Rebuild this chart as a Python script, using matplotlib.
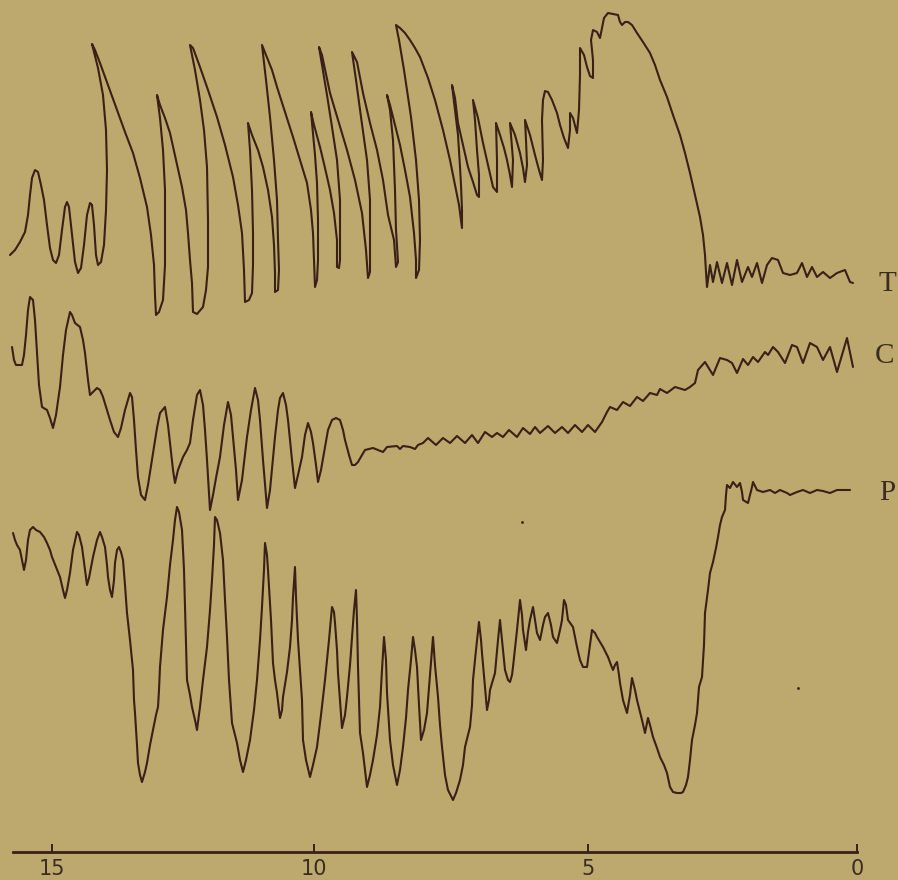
"""Kymograph tracing: T, C and P records against time (s), drum runs right-to-left."""
import matplotlib
matplotlib.use("Agg")
import matplotlib.pyplot as plt

# traces: x = drum position, y = pen height (downwards)
T_x = [10, 15, 20, 25, 28, 30, 32, 35, 38, 41, 44, 47, 50, 53, 56, 59, 62, 65, 67, 69, 72, 75, 78, 81, 84, 87, 90, 92, 94, 96, 98,
       101, 104, 106, 107, 106, 103, 98, 93, 92, 95, 100, 108, 117, 125, 133, 140, 147, 151, 154, 155, 156,
       159, 163, 165, 165, 165, 163, 160, 157, 160, 165, 170, 176, 182, 186, 188, 190, 192, 193,
       197, 203, 206, 208, 208, 207, 204, 200, 195, 190, 193, 200, 208, 217, 225, 233, 238, 242, 244, 245,
       249, 252, 253, 253, 252, 250, 248, 252, 258, 263, 268, 272, 274, 275, 275,
       278, 279, 278, 277, 274, 270, 266, 262, 266, 272, 277, 285, 293, 300, 307, 311, 313, 314, 315,
       317, 318, 318, 317, 315, 313, 311, 314, 320, 325, 330, 334, 337, 337,
       339, 340, 340, 340, 337, 332, 327, 322, 319, 322, 330, 338, 347, 355, 362, 366, 368,
       370, 370, 370, 367, 361, 356, 352, 357, 363, 370, 377, 383, 388, 394, 396,
       398, 396, 395, 393, 390, 387, 390, 395, 400, 405, 410, 414, 416, 416,
       419, 420, 419, 416, 411, 404, 399, 396, 400, 405, 410, 415, 420, 428, 435, 443, 450, 455, 459, 462,
       462, 461, 460, 458, 455, 452, 455, 458, 463, 468, 473, 477, 479, 479, 477, 475, 473,
       478, 483, 488, 493, 497, 497, 496, 500, 504, 507, 510, 512, 513, 511, 510,
       515, 520, 523, 525, 527, 526, 525, 530, 535, 539, 542, 543, 542, 543, 545, 548, 552, 557, 560, 564, 568,
       570, 570, 573, 577, 579, 580, 580, 584, 587, 590, 593, 593, 591, 593, 597, 600, 602, 604, 608, 613, 618,
       620, 622, 625, 628, 632, 637, 643, 650, 655, 660, 667, 673, 680, 685, 690, 695, 700, 703, 705, 706, 707,
       710, 713, 717, 722, 727, 732, 737, 742, 748, 752, 757, 762, 767, 772, 778, 783, 790, 797, 802, 807,
       812, 817, 823, 830, 837, 845, 850, 853]
T_y = [255, 250, 242, 232, 215, 195, 178, 170, 172, 185, 200, 225, 248, 260, 263, 255, 230, 207, 202, 207, 235, 262, 273, 268, 245, 215, 203, 205, 225, 255, 265,
       262, 245, 210, 170, 130, 95, 68, 48, 44, 50, 63, 85, 110, 132, 153, 178, 207, 235, 265, 295, 315,
       312, 300, 265, 233, 190, 150, 118, 95, 105, 118, 133, 160, 187, 210, 233, 260, 283, 312,
       314, 307, 290, 267, 220, 167, 130, 100, 70, 45, 48, 67, 90, 117, 145, 177, 205, 233, 270, 302,
       300, 293, 265, 233, 190, 150, 123, 135, 150, 167, 190, 217, 245, 273, 292,
       290, 270, 240, 200, 160, 117, 80, 45, 55, 70, 87, 112, 137, 160, 183, 210, 233, 260, 287,
       280, 260, 220, 183, 155, 133, 112, 125, 147, 168, 190, 213, 240, 267,
       268, 260, 230, 200, 160, 127, 95, 65, 47, 55, 93, 120, 150, 180, 213, 250, 278,
       272, 240, 200, 160, 117, 80, 52, 62, 93, 123, 150, 180, 215, 240, 267,
       262, 230, 190, 140, 110, 95, 105, 125, 145, 170, 197, 233, 260, 278,
       270, 240, 200, 160, 117, 70, 40, 25, 28, 33, 40, 48, 57, 78, 100, 130, 160, 185, 205, 228,
       210, 185, 167, 135, 110, 85, 98, 123, 145, 167, 182, 195, 197, 175, 150, 120, 100,
       118, 143, 165, 187, 192, 160, 123, 135, 148, 160, 175, 187, 160, 135, 123,
       135, 153, 168, 182, 165, 140, 120, 135, 155, 170, 180, 160, 120, 100, 91, 92, 100, 113, 125, 138, 148,
       130, 113, 118, 133, 110, 75, 48, 55, 67, 76, 78, 60, 40, 30, 32, 38, 28, 18, 13, 14, 15,
       22, 25, 22, 22, 25, 33, 42, 53, 65, 80, 97, 115, 135, 153, 173, 195, 217, 235, 255, 272, 287,
       265, 282, 262, 283, 263, 285, 260, 282, 267, 277, 263, 283, 265, 258, 260, 273, 275, 273, 263, 277,
       267, 277, 272, 278, 273, 270, 282, 283]

C_x = [12, 14, 16, 22, 24, 26, 28, 30, 33, 35, 37, 39, 42, 47, 50, 53, 56, 60, 63, 66, 70, 72, 75, 80, 83, 85, 88, 90, 93, 97,
       100, 103, 107, 110, 114, 118, 121, 125, 128, 130, 132, 134, 136, 138, 141, 145, 148, 153, 157, 160, 165, 168, 170, 173, 175,
       178, 183, 187, 190, 193, 197, 200, 203, 205, 207, 210, 213, 216, 220, 224, 228, 231, 233, 236, 238, 242, 247, 251, 255,
       258, 260, 263, 267, 270, 275, 278, 280, 283, 286, 288, 292, 295, 298, 302, 305, 308, 311, 313, 316, 318, 321, 325, 328,
       332, 336, 340, 343, 345, 349, 352, 355, 358, 362, 365, 373, 383, 387, 397, 400, 403, 410, 415, 418, 423, 428,
       436, 443, 450, 457, 465, 472, 478, 485, 492, 497, 503, 509, 517, 523, 530, 535, 540, 548, 555, 562, 568, 575, 582, 588, 595,
       602, 607, 610, 617, 623, 630, 637, 643, 650, 657, 660, 667, 675, 685, 690, 695, 698, 705, 710, 713, 720, 727, 732, 737,
       743, 748, 753, 758, 765, 768, 773, 778, 785, 792, 797, 803, 810, 817, 823, 830, 837, 847, 853]
C_y = [347, 360, 365, 365, 355, 335, 310, 297, 300, 320, 353, 385, 407, 410, 418, 428, 415, 387, 355, 330, 312, 315, 323, 327, 340, 353, 380, 395, 392, 388,
       390, 397, 410, 420, 432, 437, 428, 410, 400, 393, 397, 420, 450, 477, 495, 500, 485, 453, 428, 413, 407, 425, 443, 470, 483,
       470, 457, 450, 443, 420, 395, 390, 405, 430, 460, 510, 495, 478, 457, 425, 402, 415, 437, 470, 500, 480, 437, 410, 388,
       400, 420, 460, 508, 490, 437, 410, 398, 393, 405, 420, 460, 488, 475, 457, 435, 423, 432, 443, 465, 482, 470, 447, 430,
       420, 418, 420, 430, 440, 455, 465, 465, 462, 455, 450, 448, 452, 447, 446, 449, 446, 447, 449, 445, 443, 438,
       445, 438, 443, 436, 443, 435, 443, 432, 437, 433, 437, 430, 437, 428, 434, 427, 433, 426, 433, 427, 433, 425, 432, 425, 432,
       422, 412, 407, 410, 402, 406, 397, 401, 393, 395, 389, 393, 387, 390, 387, 383, 370, 362, 370, 375, 358, 360, 363, 373,
       359, 365, 357, 362, 352, 355, 347, 352, 363, 345, 347, 363, 343, 347, 360, 347, 372, 338, 367]

P_x = [13, 15, 17, 20, 22, 24, 26, 28, 30, 33, 36, 40, 44, 47, 50, 52, 56, 60, 63, 65, 67, 70, 73, 77, 79, 82, 85, 87, 89, 93, 97,
       100, 102, 105, 107, 108, 110, 112, 114, 115, 117, 119, 121, 123, 125, 127, 130, 133, 134, 135, 137, 138, 140, 142,
       145, 147, 150, 153, 156, 158, 159, 160, 163, 167, 170, 173, 175, 177, 179, 182, 184, 185, 186, 187, 190, 192, 195, 197,
       198, 200, 203, 207, 210, 212, 214, 215, 217, 220, 223, 225, 227, 229, 232, 235, 237, 240, 243,
       246, 250, 254, 257, 260, 262, 264, 265, 267, 268, 271, 273, 275, 277, 280, 282, 283, 287, 290, 292, 293, 295,
       296, 298, 300, 302, 303, 306, 310, 313, 317, 321, 325, 329, 332, 334, 335, 337, 338, 340, 342,
       345, 347, 350, 352, 354, 356, 357, 358, 360, 363, 365, 367, 370, 373, 377, 380, 382, 384, 386, 387, 390, 393, 397,
       400, 403, 406, 408, 411, 413, 415, 417, 419, 421, 424, 427, 430, 433, 435, 438, 440, 442, 445, 448, 453,
       456, 460, 463, 465, 468, 470, 472, 473, 476, 479, 481, 482, 485, 487, 489, 490, 493, 495, 498, 500, 502, 505, 508, 510,
       512, 513, 517, 520, 522, 523, 526, 528, 530, 533, 535, 537, 540, 543, 545, 548, 551, 553, 557, 560, 562, 564, 566, 568,
       573, 575, 577, 580, 583, 587, 590, 592, 595, 597, 600, 603, 608, 611, 613, 615, 617, 619, 620, 623, 627, 630, 632,
       635, 637, 640, 642, 645, 648, 650, 653, 657, 660, 664, 667, 670, 673, 677, 681, 683, 686, 688, 690, 692, 695, 697, 699,
       702, 704, 705, 708, 710, 713, 716, 718, 720, 722, 725, 726, 727, 730, 733, 737, 740, 742, 743, 748, 750, 752, 753, 757,
       763, 770, 775, 780, 787, 790, 797, 803, 810, 817, 823, 830, 837, 850]
P_y = [533, 540, 545, 550, 560, 570, 560, 540, 530, 527, 530, 532, 537, 543, 550, 557, 567, 577, 590, 598, 590, 573, 550, 532, 535, 547, 570, 585, 578, 557, 540,
       532, 537, 547, 565, 577, 590, 597, 580, 563, 550, 547, 552, 560, 585, 613, 640, 670, 700, 713, 745, 763, 775, 782,
       772, 763, 745, 730, 715, 707, 690, 667, 630, 597, 565, 540, 520, 507, 512, 530, 570, 607, 645, 680, 695, 707, 720, 730,
       722, 707, 680, 647, 610, 580, 545, 517, 520, 533, 560, 600, 637, 680, 723, 735, 743, 760, 772,
       760, 740, 710, 680, 640, 607, 570, 543, 555, 570, 620, 663, 680, 693, 718, 710, 697, 672, 647, 620, 597, 567,
       597, 640, 670, 700, 740, 760, 777, 765, 747, 715, 680, 640, 607, 612, 623, 650, 673, 700, 728,
       715, 697, 665, 637, 610, 590, 620, 667, 733, 753, 770, 787, 775, 760, 735, 707, 670, 637, 660, 693, 740, 765, 785,
       770, 747, 718, 690, 660, 637, 650, 667, 705, 740, 730, 713, 675, 637, 665, 697, 725, 747, 775, 790, 800,
       793, 780, 765, 747, 735, 727, 705, 680, 650, 622, 640, 653, 687, 710, 700, 690, 680, 673, 640, 620, 640, 670, 680, 682,
       675, 667, 630, 600, 615, 630, 650, 632, 620, 607, 620, 633, 640, 625, 617, 613, 625, 637, 643, 630, 620, 600, 605, 620,
       627, 637, 647, 660, 667, 667, 645, 630, 633, 637, 642, 647, 657, 665, 670, 665, 662, 675, 683, 700, 713, 695, 678,
       690, 700, 712, 720, 733, 718, 725, 737, 748, 757, 765, 773, 787, 792, 793, 793, 792, 785, 777, 760, 740, 725, 713, 687,
       677, 645, 613, 590, 573, 562, 548, 537, 525, 517, 510, 495, 485, 488, 482, 487, 483, 492, 500, 503, 495, 487, 482, 490,
       492, 490, 493, 490, 493, 495, 492, 490, 493, 490, 491, 493, 490, 490]

# time scale under the record (seconds before the end)
TICK_POS = [52, 314, 588, 857]
TICK_LABELS = ["15", "10", "5", "0"]

LABELS = ["T", "C", "P"]
LABEL_XY = [(887, 284), (884, 356), (887, 493)]

# stray specks on the plate
SPECK_X = [522, 798]
SPECK_Y = [522, 688]

PAPER = "#BDA86E"
INK = "#3a2016"

fig = plt.figure(figsize=(8.98, 8.80), dpi=100, facecolor=PAPER)
ax = fig.add_axes([0, 0, 1, 1], facecolor=PAPER)

for xs, ys in [(T_x, T_y), (C_x, C_y), (P_x, P_y)]:
    ax.plot(xs, ys, color=INK, linewidth=1.5, solid_joinstyle="round", solid_capstyle="round")

ax.scatter(SPECK_X, SPECK_Y, s=4, color=INK, linewidths=0)

for lbl, (lx, ly) in zip(LABELS, LABEL_XY):
    ax.text(lx, ly, lbl, ha="center", va="center", fontsize=21,
            family=["Liberation Serif", "DejaVu Serif"], color="#3b2c22")

ax.set_xlim(0, 898)
ax.set_ylim(880, 0)

for side in ("top", "left", "right"):
    ax.spines[side].set_visible(False)
ax.spines["bottom"].set_position(("data", 852))
ax.spines["bottom"].set_bounds(13, 857)
ax.spines["bottom"].set_color(INK)
ax.spines["bottom"].set_linewidth(2.0)

ax.set_xticks(TICK_POS, TICK_LABELS)
ax.tick_params(axis="x", direction="in", length=6, width=1.4, color=INK,
               pad=5, labelsize=15, labelcolor="#3b2c22")
for t in ax.get_xticklabels():
    t.set_family(["Liberation Sans Narrow", "DejaVu Sans"])
ax.set_yticks([])

fig.savefig("out.png", dpi=100, facecolor=PAPER)
